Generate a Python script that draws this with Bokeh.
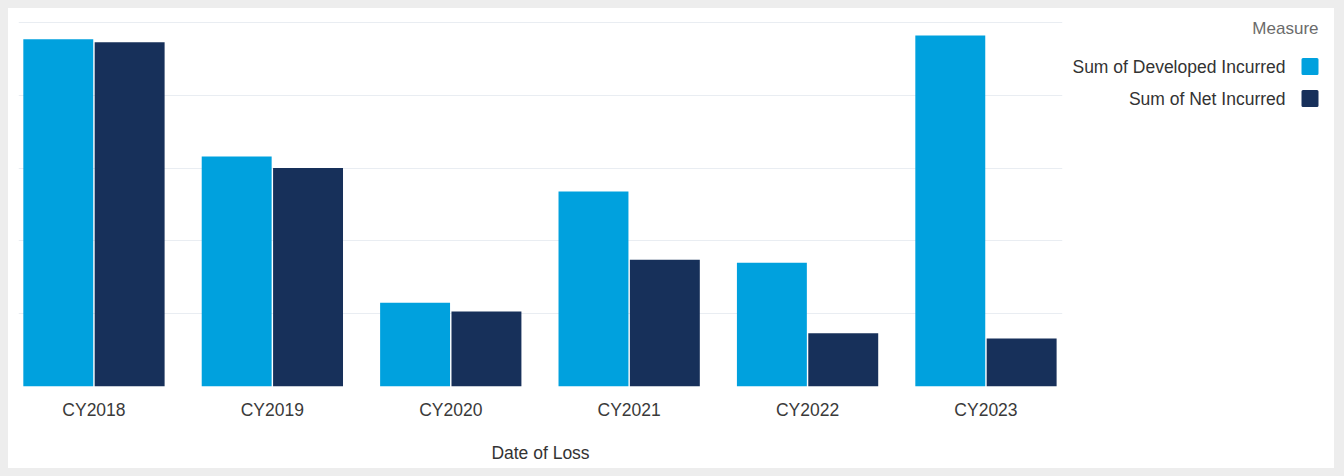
from bokeh.plotting import figure
from bokeh.layouts import row
from bokeh.models import Range1d, FixedTicker, ColumnDataSource
from bokeh.core.properties import value
from bokeh.transform import dodge
from bokeh.embed import file_html
from bokeh.resources import INLINE

# ---- data ----
categories = ["CY2018", "CY2019", "CY2020", "CY2021", "CY2022", "CY2023"]
developed_incurred = [4.77, 3.16, 1.15, 2.68, 1.70, 4.82]
net_incurred = [4.73, 3.00, 1.03, 1.74, 0.73, 0.66]
series_names = ["Sum of Developed Incurred", "Sum of Net Incurred"]
series_colors = ["#00A1DE", "#17305A"]
legend_title = "Measure"
x_title = "Date of Loss"
grid_values = [0, 1, 2, 3, 4, 5]

FONT = "Liberation Sans"
idx = list(range(len(categories)))

p = figure(frame_width=1044, frame_height=368, output_backend="svg", toolbar_location=None,
           x_range=Range1d(-0.423, 5.429), y_range=Range1d(0, 5.055),
           y_axis_location=None, min_border_left=10, min_border_right=6,
           min_border_top=10, min_border_bottom=82)
p.background_fill_color = "white"
p.border_fill_color = "white"
p.outline_line_color = None

src = ColumnDataSource(dict(x=idx, dev=developed_incurred, net=net_incurred))
p.vbar(x=dodge("x", -0.2, range=p.x_range), top="dev", width=0.392, source=src,
       fill_color=series_colors[0], line_color=None)
p.vbar(x=dodge("x", 0.2, range=p.x_range), top="net", width=0.392, source=src,
       fill_color=series_colors[1], line_color=None)

p.xgrid.visible = False
p.ygrid.ticker = FixedTicker(ticks=grid_values)
p.ygrid.grid_line_color = "#e9edf2"
p.ygrid.grid_line_width = 1
p.ygrid.level = "underlay"

xa = p.xaxis[0]
xa.ticker = FixedTicker(ticks=idx)
xa.major_label_overrides = {i: c for i, c in zip(idx, categories)}
xa.axis_line_color = None
xa.major_tick_line_color = None
xa.minor_tick_line_color = None
xa.major_tick_out = 0
xa.major_label_standoff = 13
xa.major_label_text_font = FONT
xa.major_label_text_font_size = "17.5px"
xa.major_label_text_color = "#3a3a3a"
xa.axis_label = x_title
xa.axis_label_text_font = FONT
xa.axis_label_text_font_size = "17.5px"
xa.axis_label_text_font_style = "normal"
xa.axis_label_text_color = "#333333"
xa.axis_label_standoff = 20

# ---- legend panel ----
lg = figure(frame_width=266, frame_height=460, output_backend="svg", toolbar_location=None,
            title=None,
            x_range=Range1d(0, 266), y_range=Range1d(460, 0),
            x_axis_location=None, y_axis_location=None,
            min_border=0)
lg.background_fill_color = "white"
lg.border_fill_color = "white"
lg.outline_line_color = None
lg.grid.visible = False

lg.text(x=[250], y=[10], text=[legend_title], text_align="right", text_baseline="middle",
        text_font=value(FONT), text_font_size="17px", text_color="#6b6b6b")
ys = [48, 80]
lg.text(x=[217, 217], y=ys, text=series_names, text_align="right", text_baseline="middle",
        text_font=value(FONT), text_font_size="17.5px", text_color="#333333")
lg.scatter(x=[241.5, 241.5], y=ys, marker="square", size=14, fill_color=series_colors,
           line_color=series_colors, line_width=3, line_join="round")

layout = row(p, lg, spacing=0, margin=(8, 0, 0, 8), styles={"background-color": "white"})
html = file_html(layout, INLINE)
html = html.replace("</head>", "<style>html,body{background:#ededed;}</style></head>", 1)
open("out.html", "w").write(html)
